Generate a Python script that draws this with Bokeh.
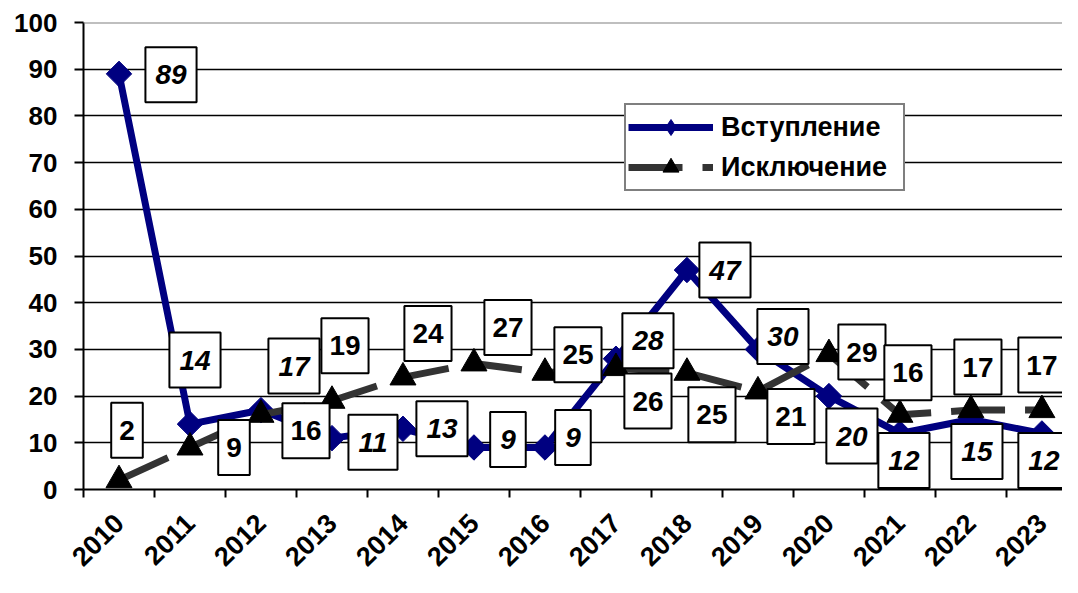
import math
from bokeh.plotting import figure
from bokeh.models import (ColumnDataSource, Range1d, FixedTicker, Legend, LegendItem, Span)
from bokeh.core.properties import value
from bokeh.embed import file_html
from bokeh.resources import INLINE

# ---- data ----
years = ["2010", "2011", "2012", "2013", "2014", "2015", "2016",
         "2017", "2018", "2019", "2020", "2021", "2022", "2023"]
vstup = [89, 14, 17, 11, 13, 9, 9, 28, 47, 30, 20, 12, 15, 12]
iskl = [2, 9, 16, 19, 24, 27, 25, 26, 25, 21, 29, 16, 17, 17]
series_names = ["Вступление", "Исключение"]
y_ticks = list(range(0, 101, 10))

# ---- label placement (screen px, +x right, +y down) ----
vstup_dx = [52, 5, 33, 41, 39, 34, 28, 32, 38, 25, 23, 4, 6, 2]
vstup_dy = [1, -64, -44, 4, 0, -8, -10, -18, 0, -13, 40, 27, 32, 27]
iskl_dx = [8, 44, 45, 13, 25, 34, 33, 32, 25, 33, 33, 8, 7, 0]
iskl_dy = [-50, 0, 16, -55, -44, -36, -18, 33, 42, 25, -2, -42, -43, -45]

FONT = "Liberation Sans"
NAVY = "#000080"
DARK = "#333333"
xs = [i + 0.5 for i in range(len(years))]

src = ColumnDataSource(dict(
    x=xs, v=vstup, i=iskl,
    vl=[str(a) for a in vstup], il=[str(a) for a in iskl],
    vdx=vstup_dx, vdy=vstup_dy, idx=iskl_dx, idy=iskl_dy,
))

p = figure(width=1062, height=577, x_range=Range1d(0, 13.79), y_range=Range1d(0, 100),
           output_backend="svg", toolbar_location=None,
           min_border_left=83, min_border_right=0, min_border_top=22, min_border_bottom=87)
p.outline_line_color = None
p.background_fill_color = "white"
p.border_fill_color = "white"

# x axis
xa = p.xaxis[0]
xa.ticker = FixedTicker(ticks=xs, minor_ticks=list(range(len(years) + 1)))
xa.major_label_overrides = {x: y for x, y in zip(xs, years)}
xa.major_label_orientation = math.pi / 4
xa.major_tick_line_color = None
xa.minor_tick_line_color = "black"
xa.minor_tick_line_width = 2
xa.minor_tick_in = 0
xa.minor_tick_out = 8
xa.axis_line_color = "black"
xa.axis_line_width = 2
xa.major_label_text_font = FONT
xa.major_label_text_font_style = "bold"
xa.major_label_text_font_size = "27px"
xa.major_label_text_color = "black"
xa.major_label_standoff = 21

# y axis
ya = p.yaxis[0]
ya.ticker = FixedTicker(ticks=y_ticks)
ya.minor_tick_line_color = None
ya.major_tick_line_color = "black"
ya.major_tick_line_width = 2
ya.major_tick_in = 0
ya.major_tick_out = 9
ya.axis_line_color = "black"
ya.axis_line_width = 2
ya.major_label_text_font = FONT
ya.major_label_text_font_style = "bold"
ya.major_label_text_font_size = "26px"
ya.major_label_text_color = "black"
ya.major_label_standoff = 17

p.xgrid.visible = False
p.ygrid.ticker = FixedTicker(ticks=y_ticks[:-1])
p.ygrid.grid_line_color = "black"
p.ygrid.grid_line_width = 1.5
p.add_layout(Span(location=y_ticks[-1], dimension="width", line_color="#808080", line_width=2))

# series
r1l = p.line("x", "v", source=src, line_color=NAVY, line_width=7)
r1m = p.scatter("x", "v", source=src, marker="square", angle=math.pi / 4, size=18,
                fill_color=NAVY, line_color=NAVY)
r2l = p.line("x", "i", source=src, line_color=DARK, line_width=7, line_dash="54 20")
r2m = p.scatter("x", "i", source=src, marker="triangle", size=26,
                fill_color="black", line_color="black")
# legend swatch marker (diamond shape; zero size in the plot itself)
r1leg = p.scatter("x", "v", source=src, marker="diamond", size=0,
                  fill_color=NAVY, line_color=NAVY)

# data labels
p.text(x="x", y="i", text="il", source=src, x_offset="idx", y_offset="idy",
       text_align="center", text_baseline="middle", text_font=value(FONT),
       text_font_size="28px", text_font_style="bold", text_color="black",
       background_fill_color="white", border_line_color="black", border_line_width=2,
       padding=dict(left=8, right=8, top=18, bottom=18))
p.text(x="x", y="v", text="vl", source=src, x_offset="vdx", y_offset="vdy",
       text_align="center", text_baseline="middle", text_font=value(FONT),
       text_font_size="28px", text_font_style="bold italic", text_color="black",
       background_fill_color="white", border_line_color="black", border_line_width=2,
       padding=dict(left=10, right=10, top=18, bottom=18))

legend = Legend(items=[LegendItem(label=series_names[0], renderers=[r1l, r1leg]),
                       LegendItem(label=series_names[1], renderers=[r2l, r2m])],
                location=(541, 298), orientation="vertical",
                glyph_width=85, glyph_height=40, spacing=0, padding=2,
                label_standoff=8, label_width=180,
                label_text_font=FONT, label_text_font_style="bold",
                label_text_font_size="27px", label_text_color="black",
                border_line_color="black", border_line_width=2,
                background_fill_color="white", background_fill_alpha=1.0)
p.add_layout(legend)

open("out.html", "w").write(file_html(p, INLINE))
